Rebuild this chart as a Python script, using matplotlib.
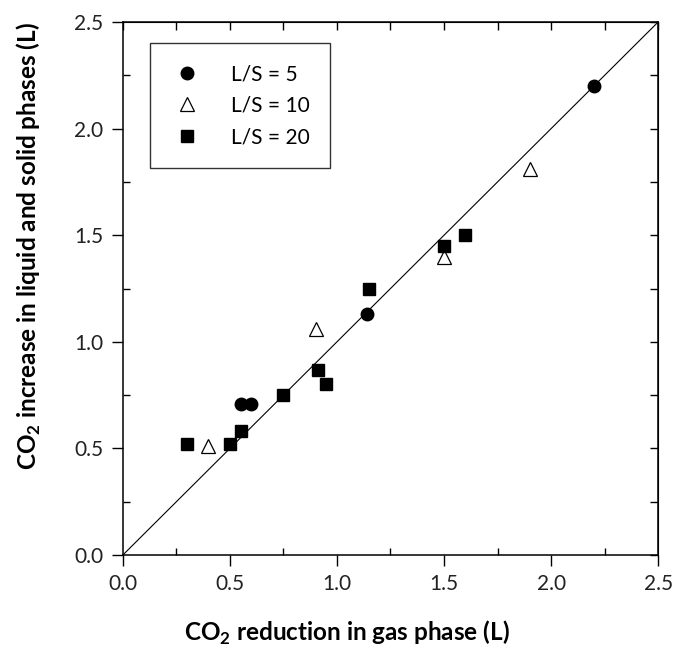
import numpy as np
import matplotlib
matplotlib.use('Agg')
import matplotlib.pyplot as plt
from matplotlib.ticker import MultipleLocator, NullFormatter

plt.rcParams['font.family'] = ['Lato', 'DejaVu Sans']
plt.rcParams['mathtext.fontset'] = 'custom'
plt.rcParams['mathtext.rm'] = 'Lato'
plt.rcParams['mathtext.bf'] = 'Lato:bold'

# data: (CO2 reduction in gas, CO2 increase in liquid+solid)
ls5_x = [0.55, 0.60, 1.14, 2.20]
ls5_y = [0.71, 0.71, 1.13, 2.20]

ls10_x = [0.40, 0.90, 1.50, 1.90]
ls10_y = [0.51, 1.06, 1.40, 1.81]

ls20_x = [0.30, 0.50, 0.55, 0.75, 0.91, 0.95, 1.15, 1.50, 1.60]
ls20_y = [0.52, 0.52, 0.58, 0.75, 0.87, 0.80, 1.25, 1.45, 1.50]

line_x = [0.0, 2.5]

fig = plt.figure(figsize=(6.75, 6.58), dpi=100)
ax = fig.add_axes([0.182, 0.1565, 0.793, 0.81])

# 1:1 line
ax.plot(line_x, line_x, color='black', lw=0.8, zorder=1)

ax.plot(ls5_x, ls5_y, 'o', color='black', ms=9, ls='none', label='L/S = 5')
ax.plot(ls10_x, ls10_y, '^', mfc='white', mec='black', mew=0.9, ms=10, ls='none', label='L/S = 10')
ax.plot(ls20_x, ls20_y, 's', color='black', ms=9, ls='none', label='L/S = 20')

ax.set_xlim(0, 2.5)
ax.set_ylim(0, 2.5)

for a in (ax.xaxis, ax.yaxis):
    a.set_major_locator(MultipleLocator(0.5))
    a.set_minor_locator(MultipleLocator(0.25))
ax.tick_params(which='major', direction='out', length=8, width=1, labelsize=15, pad=6, colors='black')
ax.tick_params(which='minor', direction='in', length=5, width=1)
ax.tick_params(axis='both', labelcolor='#222222')

# top / right ticks point inward at every 0.25
top = ax.secondary_xaxis('top')
top.xaxis.set_major_locator(MultipleLocator(0.25))
top.xaxis.set_major_formatter(NullFormatter())
top.tick_params(direction='in', length=6, width=1)
right = ax.secondary_yaxis('right')
right.yaxis.set_major_locator(MultipleLocator(0.25))
right.yaxis.set_major_formatter(NullFormatter())
right.tick_params(direction='in', length=6, width=1)

for s in ax.spines.values():
    s.set_linewidth(1.1)

ax.set_xlabel(r'CO$_\mathbf{2}$ reduction in gas phase (L)', fontsize=17.5, fontweight='bold')
ax.set_ylabel(r'CO$_\mathbf{2}$ increase in liquid and solid phases (L)', fontsize=17.5, fontweight='bold')
ax.xaxis.set_label_coords(0.418, -0.12)
ax.yaxis.set_label_coords(-0.15, 0.58)

leg = ax.legend(loc='upper left', bbox_to_anchor=(0.05, 0.96), fontsize=15, frameon=True,
                fancybox=False, edgecolor='black', borderpad=1.0, handletextpad=1.3,
                labelspacing=0.55, borderaxespad=0, handlelength=1.6)
leg.get_frame().set_linewidth(1.0)

fig.savefig('out.png', dpi=100)
